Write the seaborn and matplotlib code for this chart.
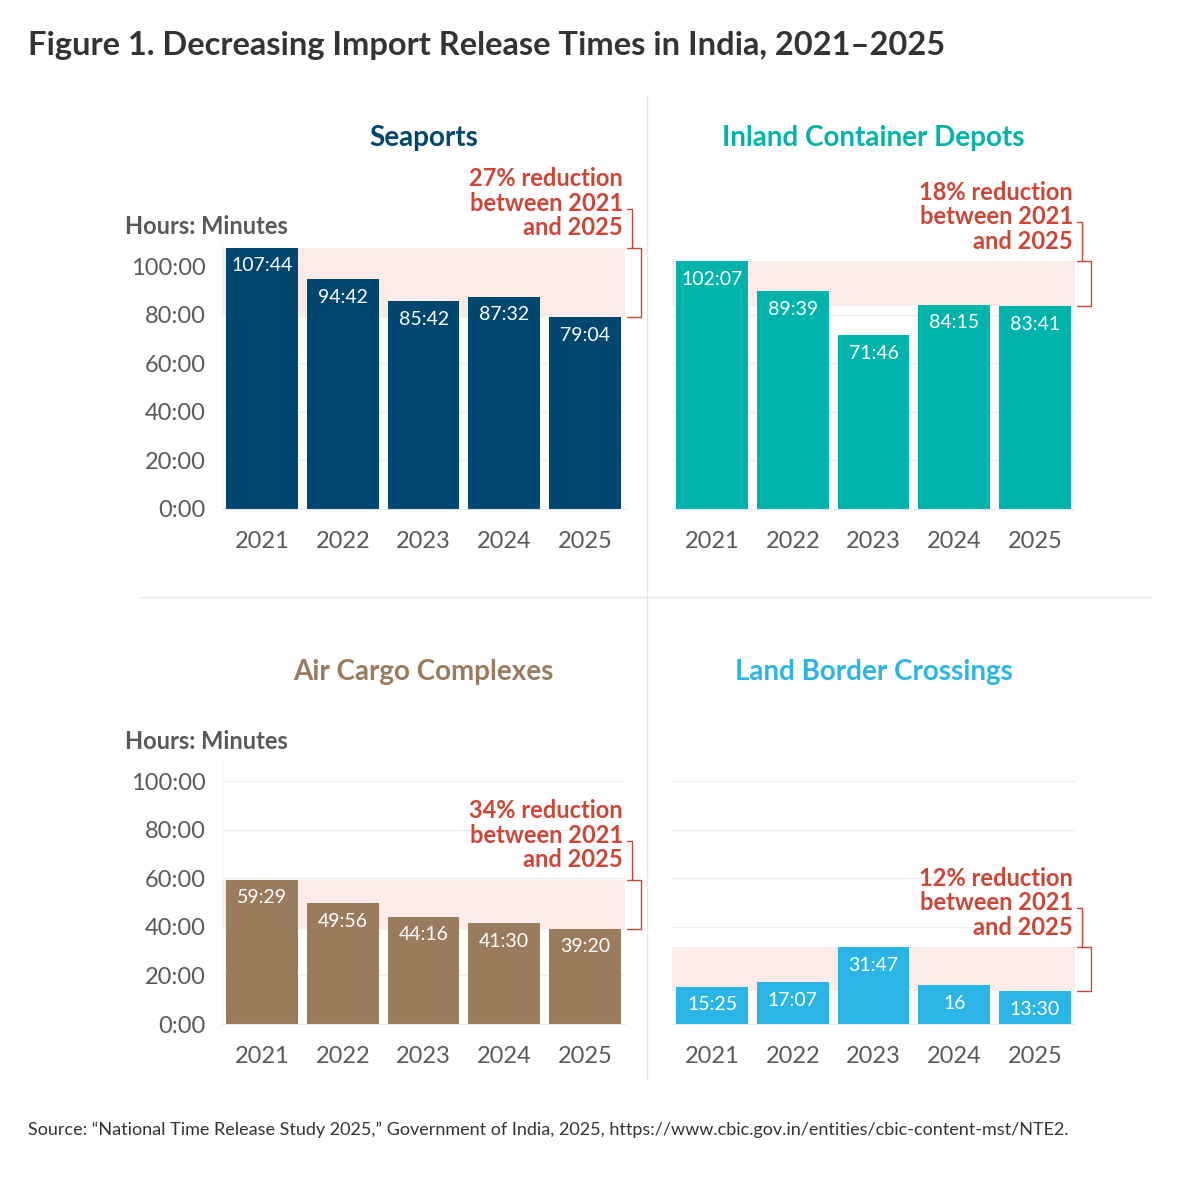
import numpy as np
import pandas as pd
import matplotlib.pyplot as plt
import seaborn as sns
from matplotlib.lines import Line2D

# Data (hours:minutes)
years = ['2021', '2022', '2023', '2024', '2025']
seaports = ['107:44', '94:42', '85:42', '87:32', '79:04']
inland = ['102:07', '89:39', '71:46', '84:15', '83:41']
air_cargo = ['59:29', '49:56', '44:16', '41:30', '39:20']
land_border = ['15:25', '17:07', '31:47', '16', '13:30']
reductions = ['27%', '18%', '34%', '12%']
panel_titles = ['Seaports', 'Inland Container Depots', 'Air Cargo Complexes', 'Land Border Crossings']
colors = ['#00476F', '#00B4AB', '#9A7B5E', '#2BB5E7']
yticks = [0, 20, 40, 60, 80, 100]
ytick_labels = ['0:00', '20:00', '40:00', '60:00', '80:00', '100:00']


def to_hours(s):
    parts = s.split(':')
    h = float(parts[0])
    m = float(parts[1]) if len(parts) > 1 else 0.0
    return h + m / 60.0


sns.set_style('white')
plt.rcParams['font.family'] = ['Lato', 'DejaVu Sans']

RED = '#CE4536'
GRAY = '#595959'
LIGHT = '#E8E8E8'

fig = plt.figure(figsize=(12, 11.87), dpi=100)

# panel positions [left, bottom, width, height]
positions = [
    [0.185, 0.5712, 0.336, 0.2249],
    [0.560, 0.5712, 0.336, 0.2249],
    [0.185, 0.1373, 0.336, 0.2249],
    [0.560, 0.1373, 0.336, 0.2249],
]
series = [seaports, inland, air_cargo, land_border]
title_y = [1 - 138 / 1187, 1 - 138 / 1187, 1 - 672 / 1187, 1 - 672 / 1187]

for i, (labels, pos) in enumerate(zip(series, positions)):
    ax = fig.add_axes(pos)
    vals = [to_hours(s) for s in labels]
    df = pd.DataFrame({'year': years, 'hours': vals})

    # gridlines
    for t in yticks[1:]:
        ax.axhline(t, color='#EFEFEF', lw=1, zorder=0)

    # shaded band from 2025 value up to max
    lo, hi = vals[-1], max(vals)
    ax.axhspan(lo, hi, color='#FBECEA', zorder=0.5, lw=0)

    sns.barplot(data=df, x='year', y='hours', color=colors[i], saturation=1,
                width=0.89, ax=ax, zorder=2, linewidth=0, edgecolor='none')
    ax.set_xlim(-0.5, 4.5)
    ax.set_ylim(0, 110)

    for x, (v, lab) in enumerate(zip(vals, labels)):
        ax.annotate(lab, xy=(x, v), xytext=(0, -7), textcoords='offset points',
                    ha='center', va='top', color='white', fontsize=14, zorder=3)

    # bracket on the right
    ax.plot([4.52, 4.69, 4.69, 4.52], [hi, hi, lo, lo], color=RED, lw=1,
            clip_on=False, zorder=3)
    ax.plot([4.52, 4.58, 4.58], [hi + 16, hi + 16, hi], color=RED, lw=1,
            clip_on=False, zorder=3)
    ax.annotate(f'{reductions[i]} reduction\nbetween 2021\nand 2025', xy=(4.47, hi),
                xytext=(0, 6), textcoords='offset points', ha='right', va='bottom',
                color=RED, fontsize=17, fontweight='bold', linespacing=1.08,
                annotation_clip=False)

    ax.set_xlabel('')
    ax.set_ylabel('')
    ax.set_yticks(yticks)
    if i % 2 == 0:
        ax.set_yticklabels(ytick_labels)
        ax.tick_params(axis='y', length=8, color=LIGHT, labelsize=17,
                       labelcolor=GRAY, pad=4)
        ax.text(-0.24, 1.06, 'Hours: Minutes', transform=ax.transAxes,
                fontsize=17, fontweight='bold', color=GRAY, ha='left', va='center')
    else:
        ax.set_yticklabels([])
        ax.tick_params(axis='y', length=0)
    ax.tick_params(axis='x', length=5, color=LIGHT, labelsize=17,
                   labelcolor=GRAY, pad=11)
    for side in ['top', 'right']:
        ax.spines[side].set_visible(False)
    ax.spines['bottom'].set_color(LIGHT)
    ax.spines['left'].set_color('#F4F4F4')
    if i % 2 == 1:
        ax.spines['left'].set_visible(False)

    fig.text(pos[0] + pos[2] / 2, title_y[i], panel_titles[i], ha='center',
             va='center', fontsize=20, fontweight='bold', color=colors[i])

# separators
fig.add_artist(Line2D([647 / 1200, 647 / 1200], [1 - 95 / 1187, 1 - 1080 / 1187],
                      color='#E6E6E6', lw=1))
fig.add_artist(Line2D([140 / 1200, 1150 / 1200], [1 - 597 / 1187, 1 - 597 / 1187],
                      color='#E6E6E6', lw=1))

fig.text(28 / 1200, 1 - 45 / 1187,
         'Figure 1. Decreasing Import Release Times in India, 2021\u20132025',
         fontsize=23.5, fontweight='bold', color='#333333', ha='left', va='center')
fig.text(28 / 1200, 1 - 1130 / 1187,
         'Source: \u201cNational Time Release Study 2025,\u201d Government of India, 2025, '
         'https://www.cbic.gov.in/entities/cbic-content-mst/NTE2.',
         fontsize=13, color='#333333', ha='left', va='center')

fig.savefig('out.png', dpi=100, facecolor='white')
